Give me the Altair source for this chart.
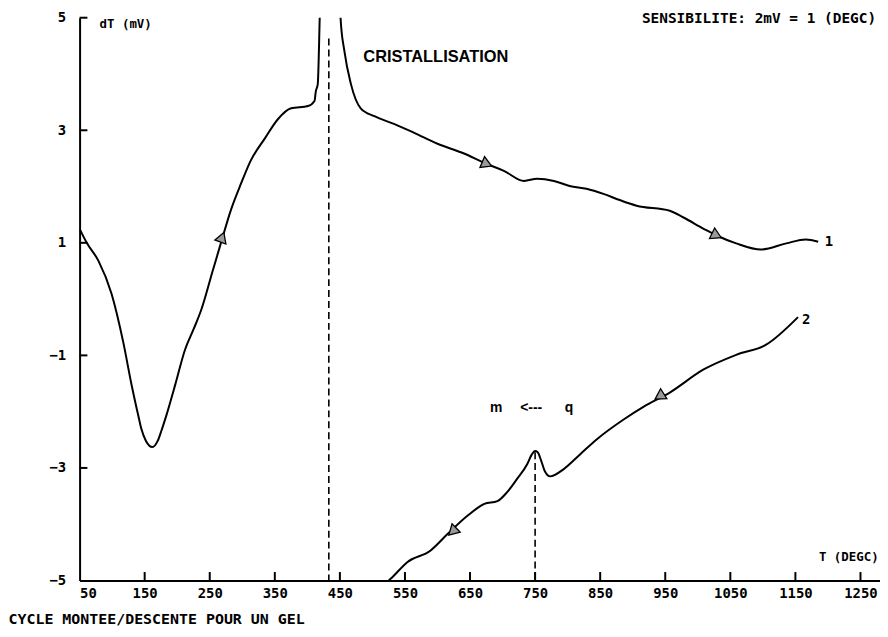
import altair as alt
import pandas as pd

# Curve 1 (heating) : temperature (DEGC) and dT (mV)
c1_t = [50, 61, 79, 99, 117, 130, 140, 145, 152, 162, 170, 176, 183, 197, 212, 225, 237, 255,
        266, 283, 298, 313, 335, 355, 375, 401, 411, 413, 416, 419, 425, 445, 451, 457, 467,
        482, 503, 534, 565, 600, 638, 676, 702, 733, 753, 779, 803, 829, 855, 880, 906, 957,
        978, 1009, 1029, 1059, 1097, 1136, 1166, 1185]
c1_v = [1.25, 1.00, 0.68, 0.10, -0.76, -1.53, -2.06, -2.31, -2.52, -2.63, -2.52, -2.33, -2.08,
        -1.52, -0.90, -0.54, -0.19, 0.52, 0.95, 1.60, 2.05, 2.46, 2.86, 3.20, 3.39, 3.43, 3.52,
        3.69, 3.82, 5.0, 8.0, 8.0, 5.0, 4.40, 3.82, 3.39, 3.25, 3.11, 2.95, 2.76, 2.60, 2.40,
        2.28, 2.10, 2.14, 2.10, 2.01, 1.96, 1.87, 1.76, 1.66, 1.57, 1.45, 1.25, 1.13, 0.99,
        0.88, 0.99, 1.06, 1.02]

# Curve 2 (cooling)
c2_t = [525, 528, 554, 589, 615, 646, 672, 692, 707, 722, 738, 745, 750, 754, 759, 765, 773,
        794, 819, 845, 886, 917, 957, 1009, 1059, 1105, 1154]
c2_v = [-5.0, -4.97, -4.67, -4.47, -4.18, -3.85, -3.64, -3.59, -3.43, -3.20, -2.93, -2.76,
        -2.70, -2.72, -2.86, -3.06, -3.15, -3.02, -2.76, -2.49, -2.14, -1.91, -1.66, -1.25,
        -0.99, -0.81, -0.32]

# direction arrows on the curves
arr_t = [269, 676, 1029, 941, 623]
arr_v = [1.10, 2.40, 1.13, -1.73, -4.13]
arr_ang = [20, 113, 116, 238, 226]

# dashed markers
dash_t = [433, 750]
dash_top = [4.63, -2.72]
dash_bot = [-5, -5]

x_ticks = [50, 150, 250, 350, 450, 550, 650, 750, 850, 950, 1050, 1150, 1250]
y_ticks = [-5, -3, -1, 1, 3, 5]

# inward tick marks (drawn as short segments in data units)
xt_t = x_ticks[1:]
xt_y1 = [-5.0] * len(xt_t)
xt_y2 = [-4.85] * len(xt_t)
yt_v = y_ticks[1:]
yt_x1 = [50.0] * len(yt_v)
yt_x2 = [62.0] * len(yt_v)

X = [50, 1280]
Y = [-5, 5]

xs = alt.Scale(domain=X, nice=False, zero=False)
ys = alt.Scale(domain=Y, nice=False, zero=False)

df1 = pd.DataFrame({"t": c1_t, "v": c1_v})
df2 = pd.DataFrame({"t": c2_t, "v": c2_v})
dfa = pd.DataFrame({"t": arr_t, "v": arr_v, "a": arr_ang})
dfd = pd.DataFrame({"t": dash_t + xt_t, "v": dash_top + xt_y2, "v2": dash_bot + xt_y1,
                    "k": ["dash"] * len(dash_t) + ["tick"] * len(xt_t)})
dfyt = pd.DataFrame({"t": yt_x1, "t2": yt_x2, "v": yt_v})

mono = "DejaVu Sans Mono"
sans = "Liberation Sans"

base_x = alt.X("t:Q", scale=xs,
               axis=alt.Axis(values=x_ticks, format="d", title="CYCLE MONTEE/DESCENTE POUR UN GEL",
                             titleX=-72, titleY=38, titleAlign="left", titleBaseline="middle",
                             titleFont=mono, titleFontSize=15, titleFontWeight="bold",
                             titleColor="black", labelPadding=6))
base_y = alt.Y("v:Q", scale=ys, axis=alt.Axis(values=y_ticks, format="d", title=None,
                                              labelPadding=14))

line1 = alt.Chart(df1).mark_line(color="black", strokeWidth=2, clip=True,
                                 interpolate="monotone").encode(x=base_x, y=base_y, order="t:Q")
line2 = alt.Chart(df2).mark_line(color="black", strokeWidth=2, clip=True,
                                 interpolate="monotone").encode(x="t:Q", y="v:Q", order="t:Q")

dashes = alt.Chart(dfd).transform_filter(alt.datum.k == "dash").mark_rule(
    color="black", strokeWidth=1.6, strokeDash=[7, 4]).encode(x="t:Q", y="v:Q", y2="v2:Q")

xt = alt.Chart(dfd).transform_filter(alt.datum.k == "tick").mark_rule(
    color="black", strokeWidth=2).encode(x="t:Q", y="v:Q", y2="v2:Q")
yt = alt.Chart(dfyt).mark_rule(color="black", strokeWidth=2).encode(
    y="v:Q", x="t:Q", x2="t2:Q")

arrows = alt.Chart(dfa).mark_point(shape="triangle-up", size=140, filled=True, fill="#9a9a9a",
                                   stroke="black", strokeWidth=1.3, opacity=1).encode(
    x="t:Q", y="v:Q", angle=alt.Angle("a:Q", scale=None))

txt_left = pd.DataFrame({"t": [80.6, 1195, 1160], "v": [4.89, 1.01, -0.37],
                         "s": ["dT (mV)", "1", "2"]})
txt_right = pd.DataFrame({"t": [1274, 1278], "v": [4.98, -4.58],
                          "s": ["SENSIBILITE: 2mV = 1 (DEGC)", "T (DEGC)"]})
txt_cr = pd.DataFrame({"t": [486], "v": [4.31], "s": ["CRISTALLISATION"]})
txt_mq = pd.DataFrame({"t": [690, 744, 802], "v": [-1.93, -1.93, -1.93], "s": ["m", "<---", "q"]})

tl1 = alt.Chart(txt_left.iloc[:1]).mark_text(align="left", baseline="middle", font=mono,
                                             fontWeight="bold", fontSize=12.5, color="black").encode(
    x="t:Q", y="v:Q", text="s:N")
tl2 = alt.Chart(txt_left.iloc[1:]).mark_text(align="left", baseline="middle", font=mono,
                                             fontWeight="bold", fontSize=14, color="black").encode(
    x="t:Q", y="v:Q", text="s:N")
tr1 = alt.Chart(txt_right.iloc[:1]).mark_text(align="right", baseline="middle", font=mono,
                                              fontWeight="bold", fontSize=14.5, color="black").encode(
    x="t:Q", y="v:Q", text="s:N")
tr2 = alt.Chart(txt_right.iloc[1:]).mark_text(align="right", baseline="middle", font=mono,
                                              fontWeight="bold", fontSize=12.5, color="black").encode(
    x="t:Q", y="v:Q", text="s:N")
tcr = alt.Chart(txt_cr).mark_text(align="left", baseline="middle", font=sans, fontWeight="bold",
                                  fontSize=16.5, color="black").encode(
    x="t:Q", y="v:Q", text="s:N")
tmq = alt.Chart(txt_mq).mark_text(align="center", baseline="middle", font=sans, fontWeight="bold",
                                  fontSize=14, color="black").encode(
    x="t:Q", y="v:Q", text="s:N")

chart = alt.layer(line1, line2, dashes, xt, yt, arrows, tl1, tl2, tr1, tr2, tcr, tmq).properties(
    width=805, height=566,
    autosize=alt.AutoSizeParams(type="none"),
    padding={"left": 72, "top": 8, "right": 0, "bottom": 45},
    background="white",
).configure_view(stroke=None).configure_axis(
    grid=False, domainColor="black", domainWidth=2, tickSize=0,
    labelFont=mono, labelFontWeight="bold", labelFontSize=14, labelColor="black",
)

chart.save("out.html", embed_options={"renderer": "svg", "actions": False})
